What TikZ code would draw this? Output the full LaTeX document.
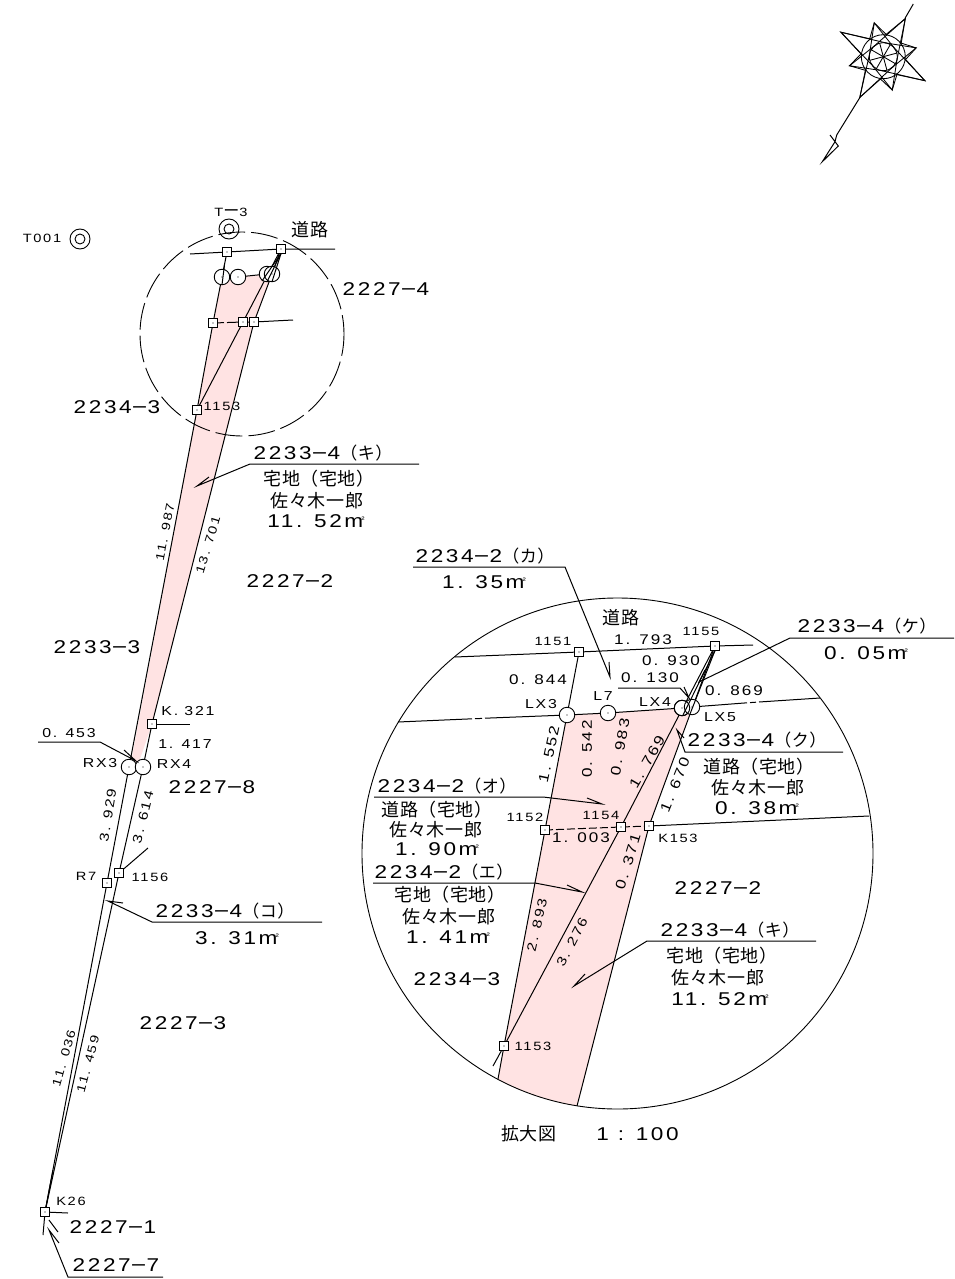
\documentclass[tikz,border=0pt]{standalone}
\usepackage{fontspec}
\usetikzlibrary{backgrounds}
\newfontfamily\lab[FakeStretch=1.22,LetterSpace=14]{Liberation Sans}
\newfontfamily\jp[LetterSpace=3]{Noto Sans CJK JP}
\newcommand\fb{\fontsize{18.5}{20}\lab}
\newcommand\fm{\fontsize{14}{15}\lab}
\newcommand\fr{\fontsize{13}{14}\lab}
\newcommand\fs{\fontsize{12}{13}\lab}
\newcommand\fj{\fontsize{18}{20}\jp}
\newcommand\dd{{\fontsize{16}{18}\jp ー}}
\newcommand\pj[1]{{\fontsize{17}{18}\jp （#1）}}
\newcommand\msq{m\kern-2pt\raisebox{5pt}{\fontsize{8}{8}\lab ²}}
\newcounter{tx}
\newcommand\TX[4][0]{\stepcounter{tx}\node[lbl,rotate=#1] (t\arabic{tx}) at (#2,#3) {#4};}
\newcommand\SQ[3]{\node[sq] (#1) at (#2,#3) {}; \fill (#1.center) circle (0.6pt);}
\newcommand\CI[3]{\node[ci] (#1) at (#2,#3) {}; \fill (#1.center) circle (0.6pt);}
\newcommand\LD[5]{\coordinate (#1a) at (#2); \coordinate (#1b) at (#3); \coordinate (#1c) at (#4); \coordinate (#1d) at (#5);
  \draw[ln] (#1a) -- (#1b) -- (#1c) -- (#1d);}
\definecolor{pinkfill}{HTML}{FFE3E3}
\tikzset{
  lbl/.style={inner sep=0pt,anchor=center,text=black},
  ln/.style={draw=black,line width=1pt,line join=miter},
  sq/.style={draw=black,fill=white,line width=0.9pt,minimum size=9pt,inner sep=0pt,outer sep=0pt,rectangle},
  ci/.style={draw=black,fill=white,line width=0.9pt,minimum size=15.5pt,inner sep=0pt,outer sep=0pt,circle},
  pk/.style={fill=pinkfill,draw=none},
}
\begin{document}
\begin{tikzpicture}[x=1pt,y=-1pt]
\useasboundingbox (0,0) rectangle (954,1279);

% --- survey points, upper sketch
\SQ{a1}{227}{252}\SQ{a2}{281}{249}\SQ{a3}{213}{323}\SQ{a4}{243}{322}\SQ{a5}{254}{322}\SQ{a6}{197}{410}
\SQ{k321}{152}{724}\SQ{r7}{107}{883}\SQ{p1156}{119}{873}\SQ{k26}{45}{1212}
\CI{c1}{222}{277}\CI{c2}{238}{277}\CI{c3}{267}{274}\CI{c4}{272}{274}
\CI{rx3}{129}{767}\CI{rx4}{143}{767}
\node[ci,minimum size=20pt] (t3) at (229,229) {};\node[ci,minimum size=10pt] (t3i) at (229,229) {};
\node[ci,minimum size=20pt] (t001) at (80,239) {};\node[ci,minimum size=10pt] (t001i) at (80,239) {};

% --- survey points, enlarged view
\SQ{b1151}{579}{652}\SQ{b1155}{715}{646}\SQ{b1152}{545}{830}\SQ{b1154}{621}{827}\SQ{b153}{649}{826}\SQ{b1153}{504}{1046}
\CI{lx3}{567}{715}\CI{l7}{608}{713}\CI{lx4}{682}{708}\CI{lx5}{692}{707}

% free ends
\coordinate (e1) at (190,254);\coordinate (e2) at (335,249);\coordinate (e3) at (293,320);
\coordinate (e4) at (190,724);\coordinate (e5) at (148,848);\coordinate (e6) at (68,1213);
\coordinate (e7) at (43,1235);\coordinate (e8) at (53,1170);\coordinate (e9) at (58,1232);\coordinate (e10) at (49,1220);
\coordinate (f1) at (455,657);\coordinate (f2) at (753,645);\coordinate (f3) at (398,722);\coordinate (f4) at (472,718.8);
\coordinate (f4b) at (475,718.7);\coordinate (f4c) at (482,718.4);
\coordinate (f5) at (485,718.2);\coordinate (f6) at (747,702.8);\coordinate (f6b) at (750,702.6);\coordinate (f6c) at (756,702.2);\coordinate (f7) at (759,702);\coordinate (f8) at (820,698);
\coordinate (f9) at (869,816);\coordinate (f10) at (498,1079);\coordinate (f11) at (577,1106);\coordinate (f12) at (493,1066);

\begin{pgfonlayer}{background}
  \fill[pk] (222,277) -- (262,275) -- (272,275) -- (254,322) -- (152,724) -- (139,762) -- (131,762) -- cycle;
  \begin{scope}
    \clip (617.5,853.5) circle (255.5pt);
    \fill[pk] (567,715) -- (682,708) -- (692,707) -- (649,826) -- (571,1130) -- (493,1105) -- (545,830) -- cycle;
  \end{scope}
  % upper sketch lines
  \draw[ln] (e1) -- (a1.center) -- (a2.center) -- (e2);
  \draw[ln] (a1.center) -- (c1.center) -- (a3.center) -- (a6.center) -- (rx3.center);
  \draw[ln] (a2.center) -- (a4.center) -- (a6.center);
  \draw[ln] (a2.center) -- (c4.center) -- (a5.center) -- (k321.center) -- (rx4.center);
  \draw[ln,dash pattern=on 11pt off 3pt] (a3.center) -- (a4.center);
  \draw[ln] (a4.center) -- (a5.center) -- (e3);
  \draw[ln] (c2.center) -- (c3.center);
  \draw[ln] (k321.center) -- (e4);
  \draw[ln] (p1156.center) -- (e5);
  \draw[ln] (rx3.center) -- (r7.center) -- (k26.center);
  \draw[ln] (rx4.center) -- (p1156.center) -- (k26.center);
  \draw[ln] (k26.center) -- (e6);
  \draw[ln] (k26.center) -- (e7);
  \draw[ln] (k26.center) -- (e8);
  \draw[ln] (e10) -- (e9);
  % enlarged view lines
  \draw[ln] (f1) -- (b1151.center) -- (b1155.center) -- (f2);
  \draw[ln] (f3) -- (f4);
  \draw[ln] (f4b) -- (f4c);
  \draw[ln] (f5) -- (lx3.center) -- (l7.center) -- (lx4.center) -- (lx5.center) -- (f6);
  \draw[ln] (f6b) -- (f6c);
  \draw[ln] (f7) -- (f8);
  \draw[ln] (b1151.center) -- (lx3.center) -- (b1152.center) -- (b1153.center) -- (f10);
  \draw[ln] (b1155.center) -- (b1154.center) -- (b1153.center) -- (f12);
  \draw[ln] (b1155.center) -- (b153.center) -- (f11);
  \draw[ln,dash pattern=on 8pt off 3pt] (b1152.center) -- (b1154.center) -- (b153.center);
  \draw[ln] (b153.center) -- (f9);
\end{pgfonlayer}

% lines visible inside circles
\draw[ln] (a1.center) ++(-2.5,13) -- (c1.south);
\draw[ln] (a2.south) -- (c3.south);
\draw[ln] (a2.south) -- (c4.south);
\draw[ln] (a2.south) -- (262,281);
\draw[ln] (b1155.south) -- (683,715);
\draw[ln] (b1155.south) -- (690,714);
\draw[line width=0.9pt] (lx4) circle (7.75pt);

% big circles
\draw[line width=0.9pt,dash pattern=on 27pt off 6pt,dash phase=8pt] (242,334) circle (102pt);
\draw[line width=0.9pt] (617.5,853.5) circle (255.5pt);

% leaders (line, knee, tip, barb)
\LD{m1}{419,464}{250,464}{197,486}{209,477}
\LD{m2}{38,742}{100,742}{136,761}{124,750}
\LD{m3}{322,922}{152,922}{108,901}{123,903}
\LD{m4}{163,1277}{68,1277}{49,1230}{59,1243}
\LD{m5}{413,567}{565,567}{610,677}{609,662}
\LD{m6}{954,638}{790,638}{699,682}{705,670}
\LD{m7}{618,688}{680,688}{689,698}{684,687}
\LD{m8}{843,752}{685,752}{677,730}{684,738}
\LD{m9}{374,797}{543,797}{602,804}{587,798}
\LD{m10}{373,883}{535,883}{582,892}{567,885}
\LD{m11}{816,941}{647,941}{574,986}{585,974}

% north arrow
\begin{scope}[shift={(883.3,56.7)},line width=0.85pt]
  \draw (0,0) circle (22pt);
  \draw (0,0) circle (14pt);
  \foreach \a/\r/\t in {60/44/71,15/34/66,-30/48/73,-75/34.5/66,-120/47/73,-165/35/66,150/49/73,105/35/66}{
    \draw[line join=miter] (\a+\t:14pt) -- (\a:\r pt) -- (\a-\t:14pt);
    \draw (\a+24:22pt) -- (\a:\r pt) -- (\a-24:22pt);
  }
  \foreach \a in {60,15,-30,-75}{
    \draw (\a:14pt) -- (\a+180:14pt);
  }
\end{scope}
\coordinate (na1) at (905,18.3);\coordinate (na2) at (913.3,4);\coordinate (na3) at (860,97.3);
\coordinate (na4) at (836.7,135);\coordinate (na5) at (830,135);\coordinate (na6) at (838.3,146);\coordinate (na7) at (822.3,161.7);\coordinate (na8) at (835,141.7);
\draw[ln] (na1) -- (na2);
\draw[ln] (na3) -- (na4);
\draw[ln,line join=miter] (na5) -- (na6) -- (na7) -- (na8) -- (na4);

% --- labels, upper sketch
\TX{231}{212}{\fs T\dd{}3}
\TX{42}{238}{\fs T001}
\TX{310}{230}{\fj 道路}
\TX{386}{289}{\fb 2227\dd{}4}
\TX{117}{407}{\fb 2234\dd{}3}
\TX{222}{406}{\fs 1153}
\TX{323}{453}{\fb 2233\dd{}4\pj{キ}}
\TX{319}{479}{\fj 宅地（宅地）}
\TX{317}{501}{\fj 佐々木一郎}
\TX{316}{521}{\fb 11. 52\msq}
\TX[79]{165}{532}{\fs 11. 987}
\TX[73]{208}{545}{\fs 13. 701}
\TX{290}{581}{\fb 2227\dd{}2}
\TX{97}{647}{\fb 2233\dd{}3}
\TX{69}{733}{\fr 0. 453}
\TX{188}{711}{\fr K. 321}
\TX{185}{744}{\fr 1. 417}
\TX{100}{763}{\fr RX3}
\TX{174}{764}{\fr RX4}
\TX{212}{787}{\fb 2227\dd{}8}
\TX[81]{108}{815}{\fr 3. 929}
\TX[76]{143}{817}{\fr 3. 614}
\TX{86}{876}{\fs R7}
\TX{150}{877}{\fs 1156}
\TX{225}{911}{\fb 2233\dd{}4\pj{コ}}
\TX{237}{938}{\fb 3. 31\msq}
\TX{183}{1023}{\fb 2227\dd{}3}
\TX[74]{64}{1058}{\fs 11. 036}
\TX[75]{88}{1064}{\fs 11. 459}
\TX{71}{1201}{\fs K26}
\TX{113}{1227}{\fb 2227\dd{}1}
\TX{116}{1265}{\fb 2227\dd{}7}

% --- labels, enlarged view
\TX{485}{556}{\fb 2234\dd{}2\pj{カ}}
\TX{484}{582}{\fb 1. 35\msq}
\TX{621}{618}{\fj 道路}
\TX{553}{641}{\fs 1151}
\TX{643}{640}{\fm 1. 793}
\TX{701}{631}{\fs 1155}
\TX{671}{661}{\fm 0. 930}
\TX{650}{678}{\fm 0. 130}
\TX{734}{691}{\fm 0. 869}
\TX{538}{680}{\fm 0. 844}
\TX{541}{704}{\fr LX3}
\TX{603}{696}{\fr L7}
\TX{655}{702}{\fr LX4}
\TX{720}{717}{\fr LX5}
\TX{867}{626}{\fb 2233\dd{}4\pj{ケ}}
\TX{866}{653}{\fb 0. 05\msq}
\TX{757}{740}{\fb 2233\dd{}4\pj{ク}}
\TX{759}{767}{\fj 道路（宅地）}
\TX{758}{788}{\fj 佐々木一郎}
\TX{757}{808}{\fb 0. 38\msq}
\TX{678}{838}{\fs K153}
\TX{718}{888}{\fb 2227\dd{}2}
\TX{730}{930}{\fb 2233\dd{}4\pj{キ}}
\TX{722}{956}{\fj 宅地（宅地）}
\TX{718}{978}{\fj 佐々木一郎}
\TX{720}{999}{\fb 11. 52\msq}
\TX[78]{549}{754}{\fm 1. 552}
\TX[90]{587}{749}{\fm 0. 542}
\TX[80]{620}{747}{\fm 0. 983}
\TX[60]{647}{762}{\fm 1. 769}
\TX[68]{675}{785}{\fm 1. 670}
\TX{601}{815}{\fs 1154}
\TX{525}{817}{\fs 1152}
\TX{581}{838}{\fm 1. 003}
\TX[73]{628}{862}{\fm 0. 371}
\TX[63]{572}{942}{\fr 3. 276}
\TX[77]{537}{925}{\fr 2. 893}
\TX{457}{979}{\fb 2234\dd{}3}
\TX{533}{1046}{\fs 1153}
\TX{447}{786}{\fb 2234\dd{}2\pj{オ}}
\TX{437}{810}{\fj 道路（宅地）}
\TX{436}{830}{\fj 佐々木一郎}
\TX{437}{849}{\fb 1. 90\msq}
\TX{444}{872}{\fb 2234\dd{}2\pj{エ}}
\TX{450}{895}{\fj 宅地（宅地）}
\TX{449}{917}{\fj 佐々木一郎}
\TX{448}{937}{\fb 1. 41\msq}
\TX{590}{1134}{{\fontsize{18}{20}\jp 拡大図}\hspace{40pt}{\fb 1 : 100}}
\end{tikzpicture}
\end{document}
